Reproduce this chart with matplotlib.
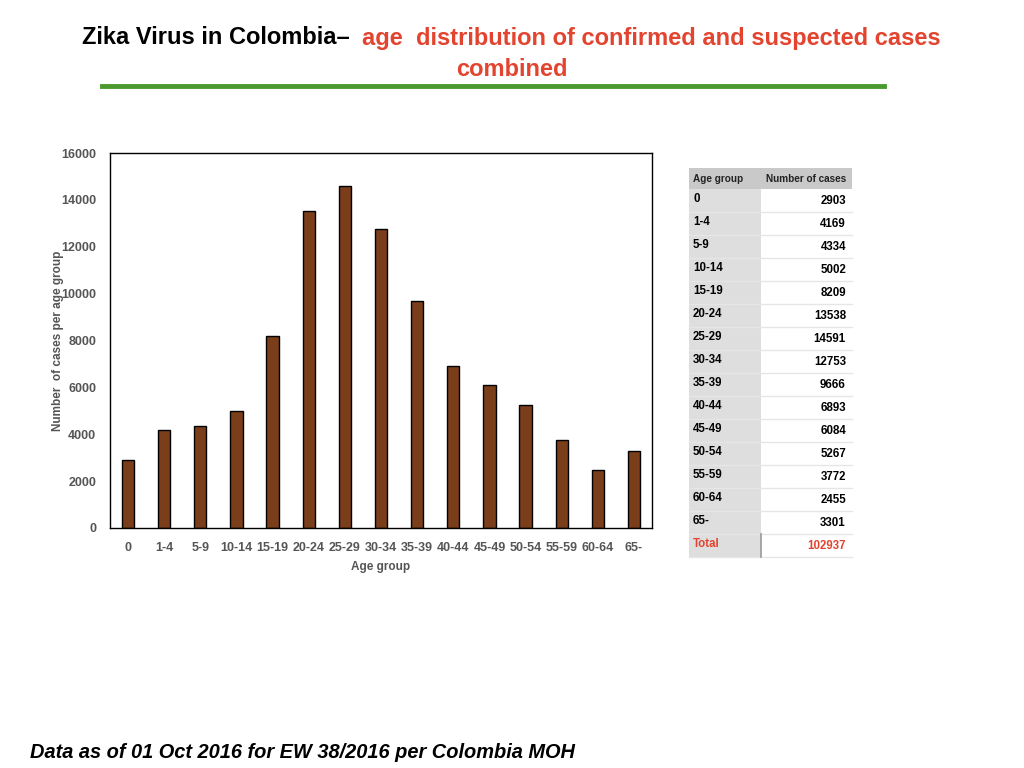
import matplotlib
matplotlib.use("Agg")
import matplotlib.pyplot as plt
from matplotlib.patches import Rectangle
from matplotlib.lines import Line2D

# data
age_groups = ["0", "1-4", "5-9", "10-14", "15-19", "20-24", "25-29", "30-34",
              "35-39", "40-44", "45-49", "50-54", "55-59", "60-64", "65-"]
cases = [2903, 4169, 4334, 5002, 8209, 13538, 14591, 12753,
         9666, 6893, 6084, 5267, 3772, 2455, 3301]
total_cases = 102937

W, H = 1024, 768
fig = plt.figure(figsize=(W / 100, H / 100), dpi=100)
fig.patch.set_facecolor("white")

def fx(px):
    return px / W

def fy(py):
    return 1 - py / H

narrow = ["Liberation Sans Narrow", "Liberation Sans", "DejaVu Sans"]
sans = ["Liberation Sans", "DejaVu Sans"]

# title
fig.text(fx(82), fy(38), "Zika Virus in Colombia\u2013", family=narrow, fontsize=17,
         fontweight="bold", color="black", ha="left", va="center")
fig.text(fx(362), fy(38), "age  distribution of confirmed and suspected cases",
         family=narrow, fontsize=17, fontweight="bold", color="#e2442f",
         ha="left", va="center")
fig.text(fx(512), fy(70), "combined", family=narrow, fontsize=17,
         fontweight="bold", color="#e2442f", ha="center", va="center")
fig.add_artist(Line2D([fx(102), fx(884)], [fy(86), fy(86)], color="#4a9a2e",
                      linewidth=3.5, transform=fig.transFigure))

# bar chart
ax = fig.add_axes([fx(110), fy(528), fx(652) - fx(110), fy(153) - fy(528)])
x = range(len(age_groups))
ax.bar(x, cases, width=0.34, color="#7a3e1b", edgecolor="black", linewidth=1.0)
ax.set_xlim(-0.5, len(age_groups) - 0.5)
ax.set_ylim(0, 16000)
ax.set_yticks(range(0, 16001, 2000))
ax.set_xticks(list(x))
ax.set_xticklabels(age_groups)
for s in ax.spines.values():
    s.set_color("black")
    s.set_linewidth(1.0)
ax.tick_params(length=0, labelsize=9, labelcolor="#555555")
ax.tick_params(axis="x", pad=10)
ax.tick_params(axis="y", pad=10)
for lab in ax.get_xticklabels() + ax.get_yticklabels():
    lab.set_fontweight("bold")
    lab.set_family(sans)
ax.set_xlabel("Age group", fontsize=8.5, color="#555555", fontweight="bold",
              family=sans, labelpad=5)
ax.set_ylabel("Number  of cases per age group", fontsize=8.5, color="#555555",
              fontweight="bold", family=sans)
ax.yaxis.set_label_coords(-0.084, 0.5)

# table on the right
tx0, tx1, tx2 = 689, 761, 852
ty0, head_h, row_h = 168, 21, 23
fig.add_artist(Rectangle((fx(tx0), fy(ty0 + head_h)), fx(tx2) - fx(tx0),
                         fy(ty0) - fy(ty0 + head_h), transform=fig.transFigure,
                         facecolor="#c9c9c9", edgecolor="none"))
fig.text(fx(tx0 + 4), fy(ty0 + head_h / 2), "Age group", family=sans, fontsize=7.2,
         fontweight="bold", color="#222222", ha="left", va="center")
fig.text(fx(tx2 - 6), fy(ty0 + head_h / 2), "Number of cases", family=sans,
         fontsize=7.2, fontweight="bold", color="#222222", ha="right", va="center")

labels = age_groups + ["Total"]
values = cases + [total_cases]
for i, (lab, val) in enumerate(zip(labels, values)):
    top = ty0 + head_h + i * row_h
    fig.add_artist(Rectangle((fx(tx0), fy(top + row_h)), fx(tx1) - fx(tx0),
                             fy(top) - fy(top + row_h), transform=fig.transFigure,
                             facecolor="#dedede", edgecolor="none"))
    fig.add_artist(Line2D([fx(tx0), fx(tx2)], [fy(top + row_h), fy(top + row_h)],
                          color="#e6e6e6", linewidth=1.0, transform=fig.transFigure))
    is_total = lab == "Total"
    col = "#e2442f" if is_total else "black"
    fig.text(fx(tx0 + 4), fy(top + 10), lab, family=sans, fontsize=8.3,
             fontweight="bold", color=col, ha="left", va="center")
    fig.text(fx(tx2 - 6), fy(top + 12), str(val), family=sans, fontsize=8.3,
             fontweight="bold", color=col, ha="right", va="center")
total_top = ty0 + head_h + 15 * row_h
fig.add_artist(Line2D([fx(tx1), fx(tx1)], [fy(total_top), fy(total_top + row_h)],
                      color="#999999", linewidth=1.2, transform=fig.transFigure))

# footer
fig.text(fx(30), fy(752), "Data as of 01 Oct 2016 for EW 38/2016 per Colombia MOH",
         family=sans, fontsize=14.4, fontweight="bold", fontstyle="italic",
         color="black", ha="left", va="center")

fig.savefig("out.png", dpi=100)
